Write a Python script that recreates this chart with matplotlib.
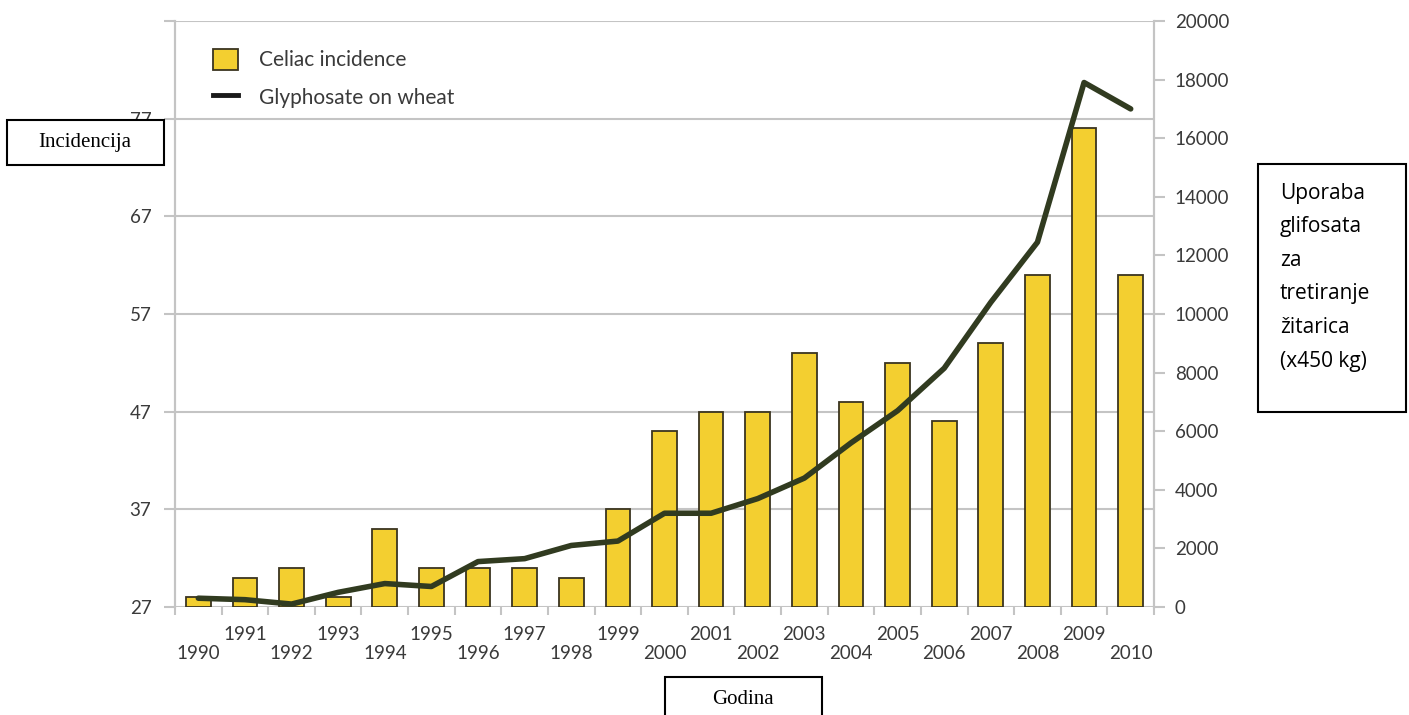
import numpy as np
import matplotlib.pyplot as plt
from matplotlib.patches import Rectangle
from matplotlib.lines import Line2D

# data
years = list(range(1990, 2011))
celiac = [28, 30, 31, 28, 35, 31, 31, 31, 30, 37, 45, 47, 47, 53, 48, 52, 46, 54, 61, 76, 61]
glyphosate = [300, 250, 100, 500, 800, 700, 1550, 1650, 2100, 2250, 3200, 3200,
              3700, 4400, 5600, 6700, 8150, 10400, 12450, 17900, 17000]
left_ticks = [27, 37, 47, 57, 67, 77]
right_ticks = list(range(0, 20001, 2000))

W, H = 1409, 715
bar_col = '#f3cf30'
edge_col = '#3a3420'
line_col = '#313b20'
grid_col = '#c4c4c4'
txt_col = '#3a3a3a'
font = 'Lato'

fig = plt.figure(figsize=(W / 100, H / 100), dpi=100)
ax = fig.add_axes([175 / W, 1 - 607 / H, (1154 - 175) / W, (607 - 21) / H])
ax2 = ax.twinx()

x = np.arange(len(years))
ax.bar(x, np.array(celiac) - 27, bottom=27, width=0.53, color=bar_col,
       edgecolor=edge_col, linewidth=1.3, zorder=3)
ax.set_xlim(-0.5, len(years) - 0.5)
ax.set_ylim(27, 87)
ax.set_yticks(left_ticks + [87])
ax.set_yticklabels([str(t) for t in left_ticks] + [''])
ax.grid(axis='y', color=grid_col, linewidth=1.5, zorder=0)
ax.set_axisbelow(True)

# x labels: odd years on the upper row, even years on the lower row
labels = [str(y) if y % 2 else '\n' + str(y) for y in years]
ax.set_xticks(x)
ax.set_xticklabels(labels, fontsize=13.5, color=txt_col, family=font, linespacing=1.1)
ax.set_xticks(np.arange(-0.5, len(years)), minor=True)
ax.tick_params(axis='x', which='major', length=0, pad=14)
ax.tick_params(axis='x', which='minor', length=6, color=grid_col, width=1.5)
ax.tick_params(axis='y', length=8, color=grid_col, width=1.5, labelsize=13.5,
               labelcolor=txt_col, pad=9)
for lab in ax.get_yticklabels():
    lab.set_family(font)

ax2.plot(x, glyphosate, color=line_col, linewidth=4, solid_capstyle='round', zorder=4)
ax2.set_ylim(0, 20000)
ax2.set_yticks(right_ticks)
ax2.tick_params(axis='y', length=8, color=grid_col, width=1.5, labelsize=13.5,
                labelcolor=txt_col, pad=7)
for lab in ax2.get_yticklabels():
    lab.set_family(font)

for a in (ax, ax2):
    for s in ('top', 'bottom'):
        a.spines[s].set_visible(False)
    a.spines['left'].set_color(grid_col)
    a.spines['right'].set_color(grid_col)
    a.spines['left'].set_linewidth(1.5)
    a.spines['right'].set_linewidth(1.5)

handles = [Rectangle((0, 0), 1, 1, facecolor=bar_col, edgecolor=edge_col, linewidth=1.3),
           Line2D([], [], color='#1a1a1a', linewidth=3.5)]
leg = ax2.legend(handles, ['Celiac incidence', 'Glyphosate on wheat'], loc='upper left',
                 bbox_to_anchor=(0.02, 0.985), frameon=False, handlelength=1.2,
                 handleheight=1.2, handletextpad=1.0, labelspacing=0.75,
                 prop={'family': font, 'size': 15})
for t in leg.get_texts():
    t.set_color(txt_col)


def box(x0, y0, x1, y1):
    fig.add_artist(Rectangle((x0 / W, 1 - y1 / H), (x1 - x0) / W, (y1 - y0) / H,
                             transform=fig.transFigure, facecolor='white',
                             edgecolor='black', linewidth=1.5, zorder=10))


box(7, 120, 164, 165)
fig.text(85 / W, 1 - 143 / H, 'Incidencija', ha='center', va='center', fontsize=15,
         family='Liberation Serif', zorder=11)

box(1258, 164, 1406, 412)
y_lines = ['Uporaba', 'glifosata', 'za', 'tretiranje', 'žitarica', '(x450 kg)']
for i, s in enumerate(y_lines):
    fig.text(1280 / W, 1 - (193 + i * 33.6) / H, s, ha='left', va='center',
             fontsize=15, family='Open Sans', zorder=11)

box(665, 677, 822, 725)
fig.text(743 / W, 1 - 700 / H, 'Godina', ha='center', va='center', fontsize=15,
         family='Liberation Serif', zorder=11)

fig.savefig('out.png', dpi=100)
